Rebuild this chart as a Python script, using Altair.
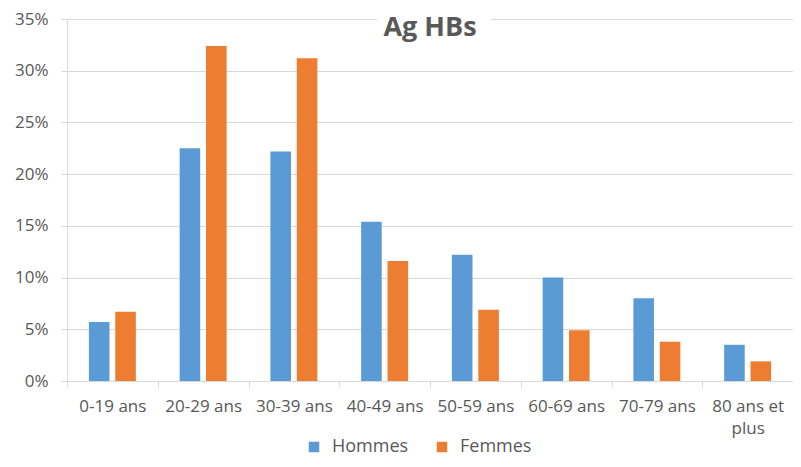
import altair as alt
import pandas as pd

categories = ["0-19 ans", "20-29 ans", "30-39 ans", "40-49 ans",
              "50-59 ans", "60-69 ans", "70-79 ans", "80 ans et plus"]
hommes = [0.057, 0.225, 0.222, 0.154, 0.122, 0.100, 0.080, 0.035]
femmes = [0.067, 0.324, 0.312, 0.116, 0.069, 0.049, 0.038, 0.019]
series = ["Hommes", "Femmes"]
colors = ["#5B9BD5", "#ED7D31"]
y_ticks = [0, 0.05, 0.10, 0.15, 0.20, 0.25, 0.30, 0.35]

rows = []
for c, h, f in zip(categories, hommes, femmes):
    rows.append({"cat": c, "sexe": "Hommes", "val": h})
    rows.append({"cat": c, "sexe": "Femmes", "val": f})
df = pd.DataFrame(rows)

font = "Open Sans"
grey = "#595959"
light = "#d9d9d9"

bars = alt.Chart(df).mark_bar().encode(
    x=alt.X("cat:N", sort=categories,
            scale=alt.Scale(paddingInner=0, paddingOuter=0),
            axis=alt.Axis(title=None, labelAngle=0, labelFontSize=17, labelColor=grey,
                          labelFont=font, domainColor=light, tickColor=light, tickSize=6,
                          tickBand="extent", labelPadding=11, grid=False, labelOverlap=False,
                          labelLineHeight=22,
                          labelExpr="datum.label == '80 ans et plus' ? ['80 ans et', 'plus'] : datum.label")),
    xOffset=alt.XOffset("sexe:N", sort=series,
                        scale=alt.Scale(paddingInner=0.22, paddingOuter=0.83)),
    y=alt.Y("val:Q", scale=alt.Scale(domain=[0, 0.35], nice=False),
            axis=alt.Axis(title=None, format=".0%", values=y_ticks, labelFontSize=17,
                          labelColor=grey, labelFont=font, domainColor=light, tickColor=light,
                          tickSize=6, labelPadding=13, gridColor=light, gridWidth=1)),
    color=alt.Color("sexe:N", sort=series,
                    scale=alt.Scale(domain=series, range=colors),
                    legend=alt.Legend(title=None, orient="none", legendX=238, legendY=419,
                                      direction="horizontal", symbolType="square",
                                      symbolSize=110, labelFontSize=18, labelColor=grey,
                                      labelFont=font, columnPadding=24, labelOffset=9,
                                      symbolStrokeWidth=0)),
)

mask = alt.Chart(pd.DataFrame({"a": [0]})).mark_rect(color="white").encode(
    x=alt.value(310), x2=alt.value(424), y=alt.value(-11), y2=alt.value(10)
)

chart = alt.layer(bars, mask).properties(
    width=726,
    height=362,
    autosize=alt.AutoSizeParams(type="none"),
    padding={"left": 59, "top": 11, "right": 0, "bottom": 78},
    title=alt.TitleParams("Ag HBs", fontSize=27, fontWeight="bold", color=grey, font=font,
                          anchor="middle", offset=-34),
).configure_view(stroke=None).configure(background="white")

chart.save("out.html", embed_options={"renderer": "svg", "actions": False})
